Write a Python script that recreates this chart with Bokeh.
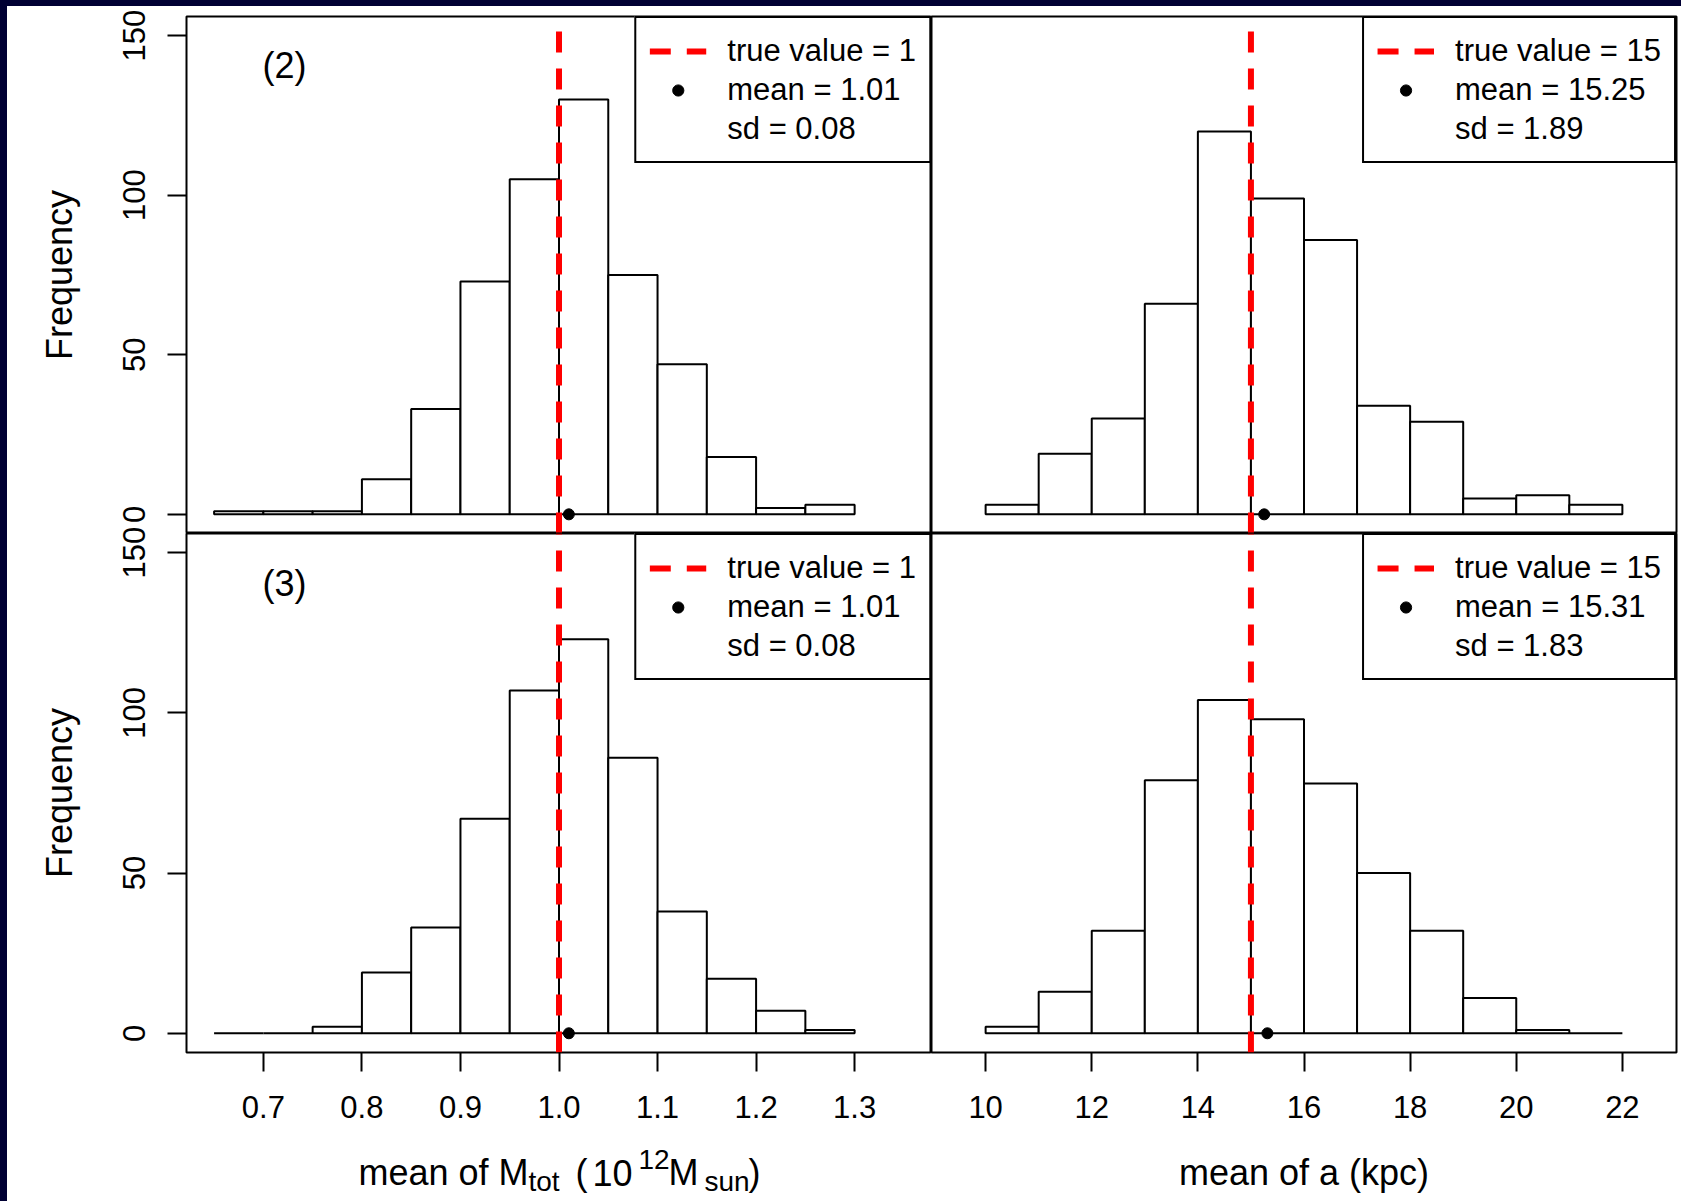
from bokeh.plotting import figure
from bokeh.models import (Range1d, FixedTicker, Label, Legend, LegendItem, Div,
                          ColumnDataSource, LinearAxis)
from bokeh.layouts import row, column
from bokeh.embed import file_html
from bokeh.resources import INLINE

# ---------------- data ----------------
mtot_edges = [0.65, 0.70, 0.75, 0.80, 0.85, 0.90, 0.95, 1.00, 1.05, 1.10, 1.15, 1.20, 1.25, 1.30]
a_edges = [10, 11, 12, 13, 14, 15, 16, 17, 18, 19, 20, 21, 22]

counts_mtot_2 = [1, 1, 1, 11, 33, 73, 105, 130, 75, 47, 18, 2, 3]
counts_a_2 = [3, 19, 30, 66, 120, 99, 86, 34, 29, 5, 6, 3]
counts_mtot_3 = [0, 0, 2, 19, 33, 67, 107, 123, 86, 38, 17, 7, 1]
counts_a_3 = [2, 13, 32, 79, 104, 98, 78, 50, 32, 11, 1, 0]

true_mtot = 1
true_a = 15
mean_mtot_2, sd_mtot_2 = 1.01, 0.08
mean_a_2, sd_a_2 = 15.25, 1.89
mean_mtot_3, sd_mtot_3 = 1.01, 0.08
mean_a_3, sd_a_3 = 15.31, 1.83

panel_tags = ["(2)", "(3)"]

y_ticks = [0, 50, 100, 150]
y_tick_labels = ["0", "50", "100", "150"]
mtot_ticks = [0.7, 0.8, 0.9, 1.0, 1.1, 1.2, 1.3]
mtot_tick_labels = ["0.7", "0.8", "0.9", "1.0", "1.1", "1.2", "1.3"]
a_ticks = [10, 12, 14, 16, 18, 20, 22]
a_tick_labels = ["10", "12", "14", "16", "18", "20", "22"]

ylabel = "Frequency"
xlabel_a = "mean of a (kpc)"
# x label of the mass panel as (text, role) pieces: M_tot ( 10^12 M_sun )
xlabel_mtot = [("mean of M", "main"), ("tot", "sub"), ("(", "main"), ("10", "main"),
               ("12", "sup"), ("M", "main"), ("sun", "sub"), (")", "main")]

# ---------------- layout constants ----------------
XLIM_M = (0.622, 1.378)
XLIM_A = (8.98, 23.02)
YLIM = (-6, 156)
NAVY = "#000033"
FONT = "Liberation Sans"
PANEL_W = 745
TOP_H = 517
BOT_H = 519
LEFT_B = 179
TOP_B = 10
OVERLAP = 9
BOTTOM_B = 149       # bottom border of the right lower panel (holds its x label)
BL_BOTTOM_B = 78     # bottom border of the left lower panel (label goes in a strip)
STRIP_H = BOTTOM_B - BL_BOTTOM_B
RIGHT_B = 5
STRIP_L = 7
STRIP_T = 6
# pixel offsets (from the frame's left edge) of the pieces of the mass-panel x label
XLABEL_OFFSETS = [172, 342, 389, 406, 452, 482, 518, 562]
SIZES = {"main": 36, "sub": 28, "sup": 28}
DY = {"main": 0, "sub": -9, "sup": 13}
XLABEL_BASELINE = 29  # pixels above the bottom of the label strip


def style_axis(ax, ticks, labels, vertical=False):
    ax.ticker = FixedTicker(ticks=ticks)
    ax.major_label_overrides = {t: l for t, l in zip(ticks, labels)}
    ax.axis_line_color = None
    ax.major_tick_in = 0
    ax.major_tick_out = 19
    ax.major_tick_line_width = 2
    ax.major_tick_line_color = "black"
    ax.minor_tick_line_color = None
    ax.major_label_text_font = FONT
    ax.major_label_text_font_size = "31px"
    ax.major_label_text_color = "black"
    ax.axis_label_text_font = FONT
    ax.axis_label_text_font_style = "normal"
    ax.axis_label_text_font_size = "36px"
    ax.axis_label_text_color = "black"
    if vertical:
        ax.major_label_orientation = "vertical"
        ax.major_label_standoff = 22
    else:
        ax.major_label_standoff = 24


def base_figure(w, h, xlim, ylim, mb):
    p = figure(width=w, height=h, x_range=Range1d(*xlim), y_range=Range1d(*ylim),
               x_axis_location=None, y_axis_location=None, toolbar_location=None,
               tools="", output_backend="svg",
               min_border_left=mb[0], min_border_right=mb[1],
               min_border_top=mb[2], min_border_bottom=mb[3])
    p.grid.grid_line_color = None
    p.background_fill_color = "white"
    p.border_fill_color = "white"
    return p


def make_panel(edges, counts, tv, mean, sd, xlim, w, h, mb, label_w,
               has_y=False, x_ticks=None, x_labels=None, tag=None, transparent=False):
    p = base_figure(w, h, xlim, YLIM, mb)
    p.outline_line_color = "black"
    p.outline_line_width = 2
    if transparent:
        p.border_fill_alpha = 0
    src = ColumnDataSource(dict(left=edges[:-1], right=edges[1:], top=counts))
    p.quad(left="left", right="right", bottom=0, top="top", source=src,
           fill_color="white", line_color="black", line_width=2)
    r_line = p.line(x=[tv, tv], y=list(YLIM), line_color="red", line_width=6,
                    line_dash="21 16")
    r_dot = p.scatter(x=[mean], y=[0], size=11, fill_color="black", line_color="black")
    r_blank = p.scatter(x=[], y=[], size=0, fill_alpha=0, line_alpha=0)

    legend = Legend(items=[
        LegendItem(label=f"true value = {tv}", renderers=[r_line]),
        LegendItem(label=f"mean = {mean:.2f}", renderers=[r_dot]),
        LegendItem(label=f"sd = {sd:.2f}", renderers=[r_blank]),
    ], location="top_right")
    legend.margin = 0
    legend.padding = 13
    legend.spacing = 0
    legend.glyph_width = 57
    legend.glyph_height = 28
    legend.label_height = 39
    legend.label_width = label_w
    legend.label_standoff = 21
    legend.label_text_font = FONT
    legend.label_text_font_size = "31px"
    legend.label_text_color = "black"
    legend.label_text_baseline = "middle"
    legend.border_line_color = "black"
    legend.border_line_alpha = 1
    legend.border_line_width = 2
    legend.background_fill_color = "white"
    legend.background_fill_alpha = 1
    p.add_layout(legend)

    if has_y:
        yax = LinearAxis()
        style_axis(yax, y_ticks, y_tick_labels, vertical=True)
        yax.axis_label = ylabel
        yax.axis_label_standoff = 41
        p.add_layout(yax, "left")
    if x_ticks is not None:
        xax = LinearAxis()
        style_axis(xax, x_ticks, x_labels)
        p.add_layout(xax, "below")
    if tag is not None:
        p.add_layout(Label(x=0.7215, y=140.5, text=tag, text_align="center",
                           text_baseline="middle", text_font=FONT,
                           text_font_size="36px", text_color="black"))
    return p


tl = make_panel(mtot_edges, counts_mtot_2, true_mtot, mean_mtot_2, sd_mtot_2, XLIM_M,
                LEFT_B + PANEL_W, TOP_B + TOP_H, (LEFT_B, 0, TOP_B, 0), 186,
                has_y=True, tag=panel_tags[0])
tr = make_panel(a_edges, counts_a_2, true_a, mean_a_2, sd_a_2, XLIM_A,
                PANEL_W + RIGHT_B, TOP_B + TOP_H, (0, RIGHT_B, TOP_B, 0), 205)
bl = make_panel(mtot_edges, counts_mtot_3, true_mtot, mean_mtot_3, sd_mtot_3, XLIM_M,
                LEFT_B + PANEL_W, OVERLAP + BOT_H + BL_BOTTOM_B,
                (LEFT_B, 0, OVERLAP, BL_BOTTOM_B), 186,
                has_y=True, x_ticks=mtot_ticks, x_labels=mtot_tick_labels,
                tag=panel_tags[1], transparent=True)
br = make_panel(a_edges, counts_a_3, true_a, mean_a_3, sd_a_3, XLIM_A,
                PANEL_W + RIGHT_B, OVERLAP + BOT_H + BOTTOM_B,
                (0, RIGHT_B, OVERLAP, BOTTOM_B), 205,
                x_ticks=a_ticks, x_labels=a_tick_labels, transparent=True)
br.below[0].axis_label = xlabel_a
br.below[0].axis_label_standoff = 31

# strip under the left lower panel holding the x label with sub/superscripts
strip = base_figure(LEFT_B + PANEL_W, STRIP_H, XLIM_M, (0, STRIP_H), (LEFT_B, 0, 0, 0))
strip.outline_line_color = None
px_x = PANEL_W / (XLIM_M[1] - XLIM_M[0])
for (t, r), off in zip(xlabel_mtot, XLABEL_OFFSETS):
    strip.add_layout(Label(x=XLIM_M[0] + off / px_x, y=XLABEL_BASELINE + DY[r],
                           text=t, text_align="left", text_baseline="alphabetic",
                           text_font=FONT, text_font_size=f"{SIZES[r]}px",
                           text_color="black"))

nav_top = Div(text="", width=STRIP_L + 2 * PANEL_W + LEFT_B + RIGHT_B, height=STRIP_T,
              margin=0, styles={"background-color": NAVY})
nav_left = Div(text="", width=STRIP_L, height=1201 - STRIP_T, margin=0,
               styles={"background-color": NAVY})
grid = column(row(tl, tr), row(column(bl, strip), br, margin=(-OVERLAP, 0, 0, 0)))
layout = column(nav_top, row(nav_left, grid))

open("out.html", "w").write(file_html(layout, INLINE))
